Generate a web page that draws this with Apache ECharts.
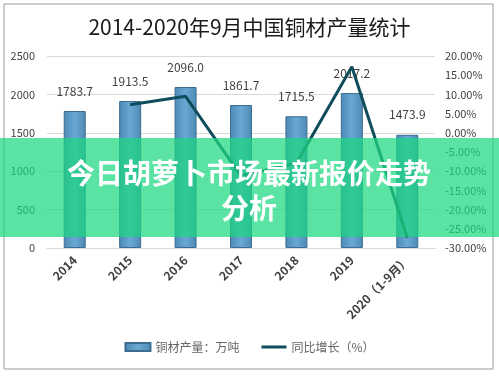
<!DOCTYPE html>
<html>
<head>
<meta charset="utf-8">
<script src="https://cdn.jsdelivr.net/npm/echarts@6/dist/echarts.min.js"></script>
<style>
  html, body { margin: 0; padding: 0; background: #fff; }
  #chart { width: 499px; height: 377px; }
</style>
</head>
<body>
<div id="chart"></div>
<script>
// 数据
const categories = ['2014', '2015', '2016', '2017', '2018', '2019', '2020（1-9月）']
const output = [1783.7, 1913.5, 2096.0, 1861.7, 1715.5, 2017.2, 1473.9]
const growth = [null, 7.3, 9.5, -11.2, -7.9, 17.2, -27.3]
const leftTicks = { min: 0, max: 2500, interval: 500 }
const rightTicks = { min: -30, max: 20, interval: 5 }

const font = '"Noto Sans CJK SC", "Microsoft YaHei", sans-serif'
const chart = echarts.init(document.getElementById('chart'))

const option = {
  animation: false,
  textStyle: { fontFamily: font },
  title: {
    text: '2014-2020年9月中国铜材产量统计',
    left: 'center',
    top: 12,
    textStyle: { fontSize: 21, fontWeight: 'normal', color: '#1a1a1a', fontFamily: font }
  },
  legend: {
    bottom: 19,
    left: 'center',
    itemGap: 22,
    itemWidth: 25,
    itemHeight: 8,
    textStyle: { fontSize: 12, color: '#666' },
    data: [
      { name: '铜材产量：万吨', icon: 'rect' },
      { name: '同比增长（%）', icon: 'path://M0,0 H25 V3 H0 Z' }
    ]
  },
  grid: { left: 47, right: 64, top: 56, bottom: 129 },
  xAxis: {
    type: 'category',
    data: categories,
    axisLine: { lineStyle: { color: '#d9d9d9' } },
    axisTick: { show: false },
    axisLabel: { rotate: 45, fontSize: 12, color: '#404040', fontWeight: 'bold', interval: 0, margin: 10 }
  },
  yAxis: [
    {
      type: 'value',
      min: leftTicks.min, max: leftTicks.max, interval: leftTicks.interval,
      axisLabel: { fontSize: 11, color: '#404040', margin: 12, formatter: v => String(v) },
      splitLine: { lineStyle: { color: '#d9d9d9' } }
    },
    {
      type: 'value',
      min: rightTicks.min, max: rightTicks.max, interval: rightTicks.interval,
      axisLabel: { fontSize: 11, color: '#404040', margin: 10, formatter: v => v.toFixed(2) + '%' },
      splitLine: { show: false }
    }
  ],
  series: [
    {
      name: '铜材产量：万吨',
      type: 'bar',
      data: output,
      barWidth: 22,
      itemStyle: {
        color: new echarts.graphic.LinearGradient(0, 0, 1, 0, [
          { offset: 0, color: '#4d89b4' },
          { offset: 0.5, color: '#6aa8d4' },
          { offset: 1, color: '#4d89b4' }
        ]),
        borderColor: '#3c6d90',
        borderWidth: 1
      },
      label: {
        show: true,
        position: 'top',
        distance: 14,
        fontSize: 12,
        color: '#404040',
        formatter: p => p.value.toFixed(1)
      }
    },
    {
      name: '同比增长（%）',
      type: 'line',
      yAxisIndex: 1,
      data: growth,
      symbol: 'none',
      lineStyle: { color: '#0f4c5c', width: 3 },
      itemStyle: { color: '#0f4c5c' }
    }
  ],
  graphic: [
    {
      type: 'rect',
      shape: { x: 4, y: 4, width: 489, height: 365 },
      style: { fill: 'none', stroke: '#9a9a9a', lineWidth: 1 },
      z: 0
    },
    {
      type: 'rect',
      shape: { x: 0, y: 138, width: 499, height: 99 },
      style: { fill: 'rgba(28,216,129,0.72)' },
      z: 100
    },
    {
      type: 'text',
      x: 249, y: 173,
      style: {
        text: '今日胡萝卜市场最新报价走势',
        fill: '#fff',
        font: 'bold 28px ' + font,
        textAlign: 'center',
        textVerticalAlign: 'middle'
      },
      z: 101
    },
    {
      type: 'text',
      x: 249, y: 208,
      style: {
        text: '分析',
        fill: '#fff',
        font: 'bold 28px ' + font,
        textAlign: 'center',
        textVerticalAlign: 'middle'
      },
      z: 101
    }
  ]
}
chart.setOption(option)
</script>
</body>
</html>
